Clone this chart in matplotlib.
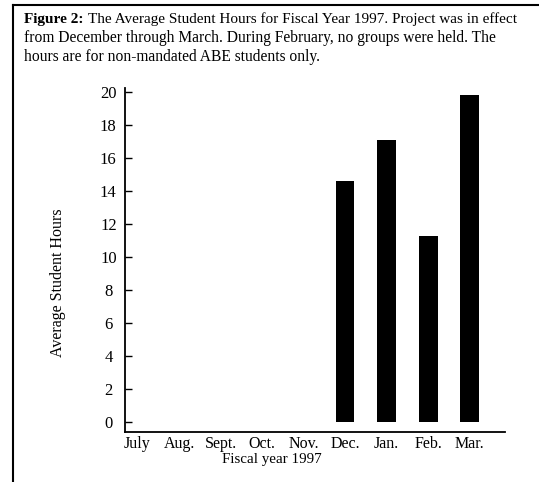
import matplotlib
matplotlib.use('Agg')
import matplotlib.pyplot as plt
from matplotlib.lines import Line2D

plt.rcParams['font.family'] = ['Liberation Serif', 'DejaVu Serif']

months = ['July', 'Aug.', 'Sept.', 'Oct.', 'Nov.', 'Dec.', 'Jan.', 'Feb.', 'Mar.']
hours = [0, 0, 0, 0, 0, 14.6, 17.1, 11.3, 19.8]
yticks = [0, 2, 4, 6, 8, 10, 12, 14, 16, 18, 20]

W, H = 539, 482
fig = plt.figure(figsize=(W / 100, H / 100), dpi=100)

# page frame (top and left rules of the scanned box)
fig.add_artist(Line2D([13 / W, 1.0], [1 - 5 / H, 1 - 5 / H], color='black', lw=1.5))
fig.add_artist(Line2D([13 / W, 13 / W], [0, 1 - 5 / H], color='black', lw=1.5))

# caption
cap_x = 24 / W
cap_fs = 11.0
bold = fig.text(cap_x, 1 - 19 / H, 'Figure 2:', fontsize=cap_fs, fontweight='bold', va='center')
fig.canvas.draw()
bb = bold.get_window_extent()
fig.text((bb.x1 + 4) / W, 1 - 19 / H,
         'The Average Student Hours for Fiscal Year 1997. Project was in effect',
         fontsize=cap_fs, va='center')
fig.text(cap_x, 1 - 38 / H,
         'from December through March. During February, no groups were held. The',
         fontsize=cap_fs + 0.2, va='center')
fig.text(cap_x, 1 - 57 / H, 'hours are for non-mandated ABE students only.',
         fontsize=cap_fs + 0.2, va='center')

ax = fig.add_axes([125 / W, 50 / H, 380 / W, 344 / H])
x = list(range(len(months)))
ax.bar(x, hours, width=0.45, color='black')

ax.set_xlim(-0.3, 8.85)
ax.set_ylim(-0.6, 20.25)
ax.set_yticks(yticks)
ax.set_xticks(x)
ax.set_xticklabels(months, fontsize=11.5)
ax.tick_params(axis='y', direction='in', length=5, width=1, pad=12, labelsize=12)
for lab in ax.get_yticklabels():
    lab.set_horizontalalignment('center')
ax.tick_params(axis='x', length=0, pad=3)

for s in ['top', 'right']:
    ax.spines[s].set_visible(False)
ax.spines['left'].set_linewidth(1.3)
ax.spines['bottom'].set_linewidth(1.3)

fig.text(58 / W, 1 - 283 / H, 'Average Student Hours', rotation=90,
         fontsize=11.5, ha='center', va='center')
fig.text(272 / W, 1 - 460 / H, 'Fiscal year 1997', fontsize=10.8,
         ha='center', va='center')

fig.savefig('out.png', dpi=100)
